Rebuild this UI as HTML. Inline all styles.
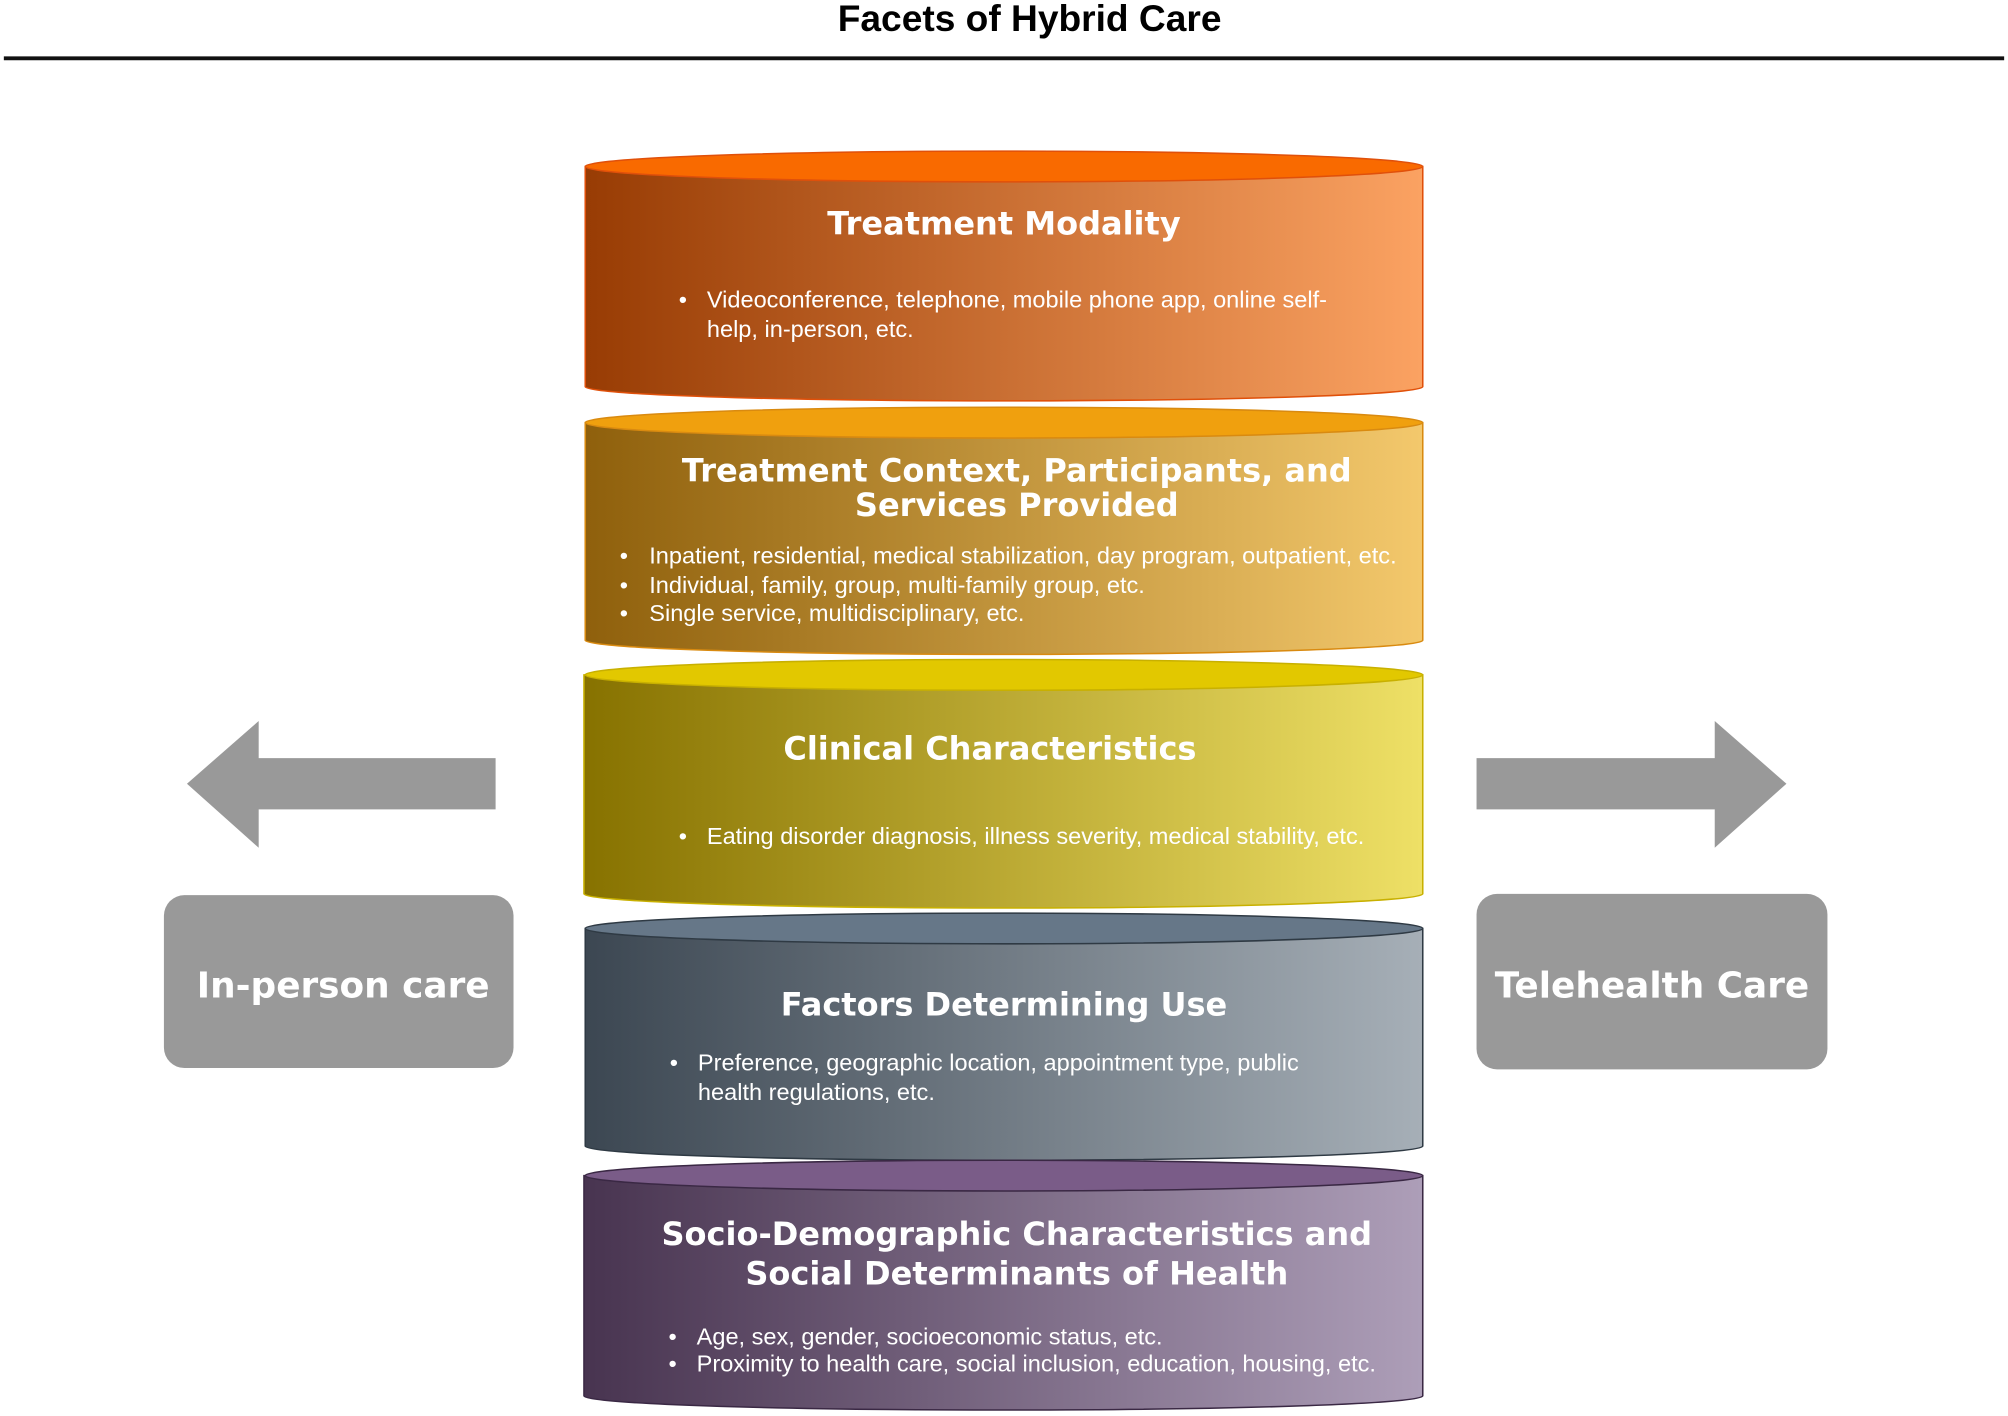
<!DOCTYPE html>
<html><head><meta charset="utf-8"><style>html,body{margin:0;padding:0;background:#fff}svg{display:block}</style></head>
<body>
<svg width="2008" height="1416" viewBox="0 0 1568 1105.7" preserveAspectRatio="none" xmlns="http://www.w3.org/2000/svg">
<defs>
<linearGradient id="g1" x1="0" x2="1"><stop offset="0" stop-color="#983c04"/><stop offset="1" stop-color="#fba262"/></linearGradient>
<linearGradient id="g2" x1="0" x2="1"><stop offset="0" stop-color="#8f600c"/><stop offset="1" stop-color="#f3c86c"/></linearGradient>
<linearGradient id="g3" x1="0" x2="1"><stop offset="0" stop-color="#877200"/><stop offset="1" stop-color="#eee066"/></linearGradient>
<linearGradient id="g4" x1="0" x2="1"><stop offset="0" stop-color="#3c4752"/><stop offset="1" stop-color="#a6afb7"/></linearGradient>
<linearGradient id="g5" x1="0" x2="1"><stop offset="0" stop-color="#483450"/><stop offset="1" stop-color="#ad9eb8"/></linearGradient>
</defs>
<text x="804" y="24" text-anchor="middle" font-family="Liberation Sans, sans-serif" font-weight="bold" font-size="29" fill="#000">Facets of Hybrid Care</text>
<line x1="3" y1="45.5" x2="1565" y2="45.5" stroke="#111" stroke-width="3"/>

<g stroke-width="1.2">
<path d="M457 130 V302 A327 11 0 0 0 1111 302 V130 Z" fill="url(#g1)" stroke="#e0500a"/>
<ellipse cx="784" cy="130" rx="327" ry="12" fill="#f96a00" stroke="#e0500a"/>
<path d="M457 330 V500 A327 11 0 0 0 1111 500 V330 Z" fill="url(#g2)" stroke="#d98a10"/>
<ellipse cx="784" cy="330" rx="327" ry="12" fill="#f0a00e" stroke="#d98a10"/>
<path d="M456 527 V698 A327 11 0 0 0 1111 698 V527 Z" fill="url(#g3)" stroke="#c8b000"/>
<ellipse cx="784" cy="527" rx="327" ry="12" fill="#e2c800" stroke="#c8b000"/>
<path d="M457 725 V895 A327 11 0 0 0 1111 895 V725 Z" fill="url(#g4)" stroke="#2f3a44"/>
<ellipse cx="784" cy="725" rx="327" ry="12" fill="#667788" stroke="#2f3a44"/>
<path d="M456 918 V1090 A327 11 0 0 0 1111 1090 V918 Z" fill="url(#g5)" stroke="#3a2844"/>
<ellipse cx="784" cy="918" rx="327" ry="12" fill="#7a5c88" stroke="#3a2844"/>
</g>

<g fill="#fff" font-family="DejaVu Sans, sans-serif" font-weight="bold" font-size="25" text-anchor="middle">
<text x="784" y="183">Treatment Modality</text>
<text x="794" y="376">Treatment Context, Participants, and</text>
<text x="794" y="403">Services Provided</text>
<text x="773" y="593">Clinical Characteristics</text>
<text x="784" y="793">Factors Determining Use</text>
<text x="794" y="972">Socio-Demographic Characteristics and</text>
<text x="794" y="1003">Social Determinants of Health</text>
</g>
<g fill="#fff" font-family="Liberation Sans, sans-serif" font-size="18.4">
<text x="530" y="240">•</text><text x="552" y="240">Videoconference, telephone, mobile phone app, online self-</text>
<text x="552" y="263">help, in-person, etc.</text>
<text x="484" y="440">•</text><text x="507" y="440">Inpatient, residential, medical stabilization, day program, outpatient, etc.</text>
<text x="484" y="463">•</text><text x="507" y="463">Individual, family, group, multi-family group, etc.</text>
<text x="484" y="485">•</text><text x="507" y="485">Single service, multidisciplinary, etc.</text>
<text x="530" y="659">•</text><text x="552" y="659">Eating disorder diagnosis, illness severity, medical stability, etc.</text>
<text x="523" y="836">•</text><text x="545" y="836">Preference, geographic location, appointment type, public</text>
<text x="545" y="859">health regulations, etc.</text>
<text x="522" y="1050">•</text><text x="544" y="1050">Age, sex, gender, socioeconomic status, etc.</text>
<text x="522" y="1071">•</text><text x="544" y="1071">Proximity to health care, social inclusion, education, housing, etc.</text>
</g>

<polygon points="146,612 202,563 202,592 387,592 387,632 202,632 202,662" fill="#999"/>
<polygon points="1395,612 1339,563 1339,592 1153,592 1153,632 1339,632 1339,662" fill="#999"/>
<rect x="128" y="699" width="273" height="135" rx="16" fill="#999"/>
<rect x="1153" y="698" width="274" height="137" rx="16" fill="#999"/>
<g fill="#fff" font-family="DejaVu Sans, sans-serif" font-weight="bold" font-size="28" text-anchor="middle">
<text x="268" y="779">In-person care</text>
<text x="1290" y="779">Telehealth Care</text>
</g>
</svg>
</body></html>
